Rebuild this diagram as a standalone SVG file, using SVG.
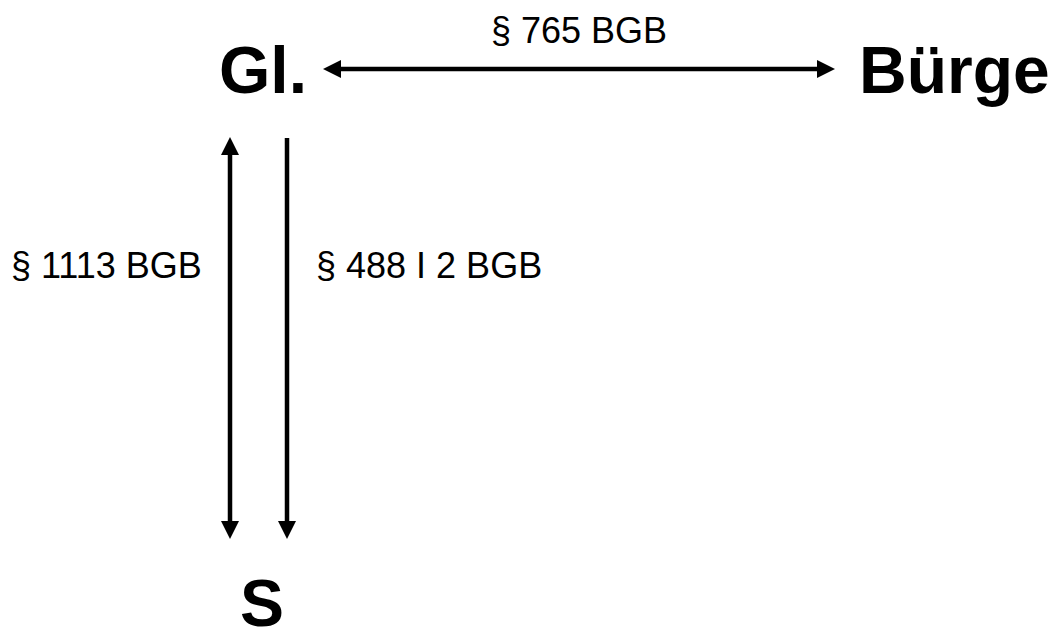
<svg xmlns="http://www.w3.org/2000/svg" width="1048" height="628" viewBox="0 0 1048 628">
  <style>
    .big { font-family: "Liberation Sans", Arial, sans-serif; font-weight: bold; font-size: 66px; fill: #000; }
    .lbl { font-family: "Liberation Sans", Arial, sans-serif; font-size: 36px; fill: #000; }
    .conn { stroke: #000; stroke-width: 4.5; fill: none; }
  </style>
  <defs>
    <marker id="ah" viewBox="0 0 18 18" refX="8" refY="9" markerWidth="18" markerHeight="18" markerUnits="userSpaceOnUse" orient="auto-start-reverse">
      <path d="M0,0 L18,9 L0,18 z" fill="#000"/>
    </marker>
  </defs>
  <rect width="1048" height="628" fill="#fff"/>
  <g id="node-gl"><text class="big" x="219" y="93">Gl.</text></g>
  <g id="node-buerge"><text class="big" x="859" y="93">Bürge</text></g>
  <g id="node-s"><text class="big" x="240" y="626">S</text></g>
  <g id="connectors">
    <line class="conn" x1="333" y1="69" x2="825" y2="69" marker-start="url(#ah)" marker-end="url(#ah)"/>
    <line class="conn" x1="230" y1="147" x2="230" y2="529" marker-start="url(#ah)" marker-end="url(#ah)"/>
    <line class="conn" x1="287" y1="138" x2="287" y2="529" marker-end="url(#ah)"/>
  </g>
  <g id="labels">
    <text class="lbl" x="491" y="43">§ 765 BGB</text>
    <text class="lbl" x="11" y="278">§ 1113 BGB</text>
    <text class="lbl" x="316" y="278">§ 488 I 2 BGB</text>
  </g>
</svg>
